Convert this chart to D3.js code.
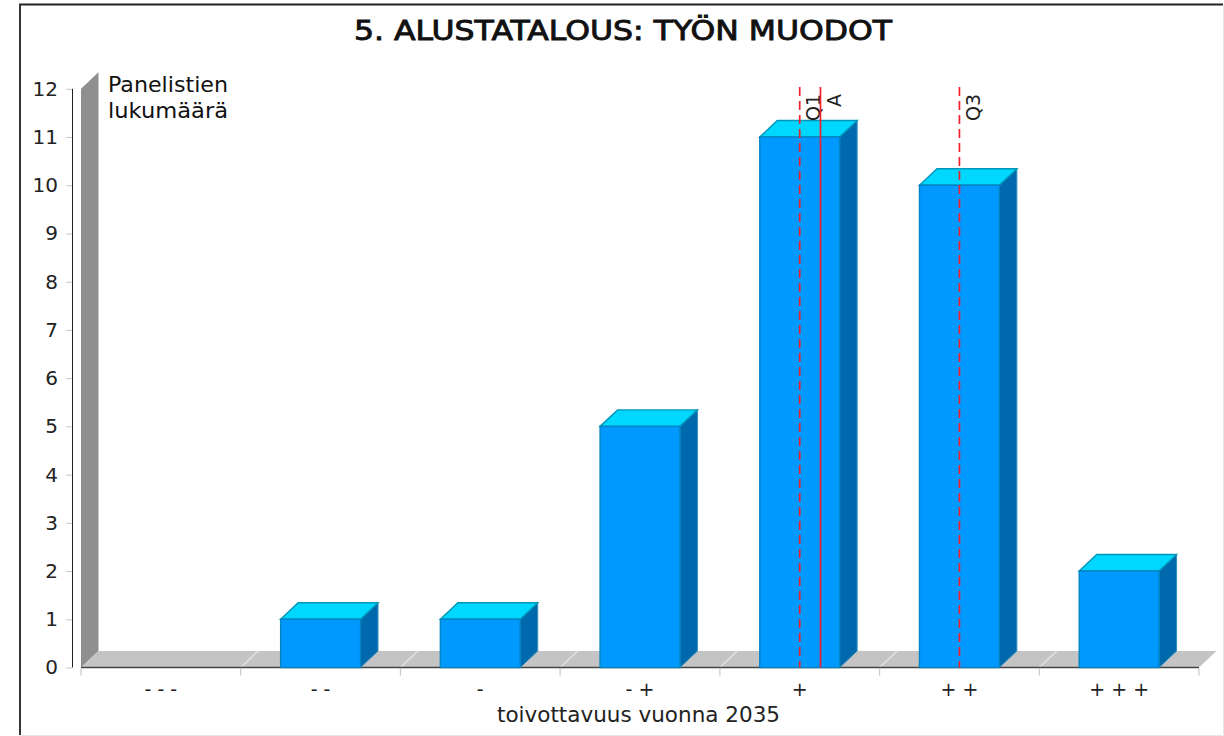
<!DOCTYPE html>
<html>
<head>
<meta charset="utf-8">
<script src="https://cdn.jsdelivr.net/npm/d3@7"></script>
<style>
html, body { margin: 0; padding: 0; background: #fff; overflow: hidden; }
text { font-family: "DejaVu Sans", sans-serif; fill: #222; }
</style>
</head>
<body>
<div id="canvas"></div>
<script>
var WIDTH = 1224
var HEIGHT = 736

var TITLE = '5. ALUSTATALOUS: TYÖN MUODOT'
var Y_TITLE = ['Panelistien', 'lukumäärä']
var X_TITLE = 'toivottavuus vuonna 2035'

var categories = ['- - -', '- -', '-', '- +', '+', '+ +', '+ + +']
var values = [0, 1, 1, 5, 11, 10, 2]
var yTicks = [0, 1, 2, 3, 4, 5, 6, 7, 8, 9, 10, 11, 12]

// marker positions, in category index units (0 = first category centre)
var markerNames = ['Q1', 'A', 'Q3']
var markerValues = [4, 4.13, 5]
var markerDashed = [true, false, true]

var DX = 17.5
var DY = 16.5
var LEFT = 81
var RIGHT = 1199
var TOP = 88.8
var BOTTOM = 667.5

var svg = d3.select('#canvas').append('svg')
  .attr('width', WIDTH)
  .attr('height', HEIGHT)
  .style('display', 'block')

// frame
svg.append('rect').attr('x', 0).attr('y', 0).attr('width', WIDTH).attr('height', HEIGHT).attr('fill', '#fff')
svg.append('path')
  .attr('d', 'M20,735V4.5H1223')
  .attr('fill', 'none')
  .attr('stroke', '#222')
  .attr('stroke-width', 1.8)
svg.append('path')
  .attr('d', 'M20,735.5H1223.5V5')
  .attr('fill', 'none')
  .attr('stroke', '#e6e6e6')
  .attr('stroke-width', 1)

var x = d3.scaleBand().domain(categories).range([LEFT, RIGHT]).paddingInner(0).paddingOuter(0)
var y = d3.scaleLinear().domain([0, 12]).range([BOTTOM, TOP])
var band = x.bandwidth()
var barWidth = band * 0.5

var markerX = d3.scaleLinear().domain([0, 6]).range([x(categories[0]) + band / 2, x(categories[6]) + band / 2])

// wall and floor
svg.append('path')
  .attr('d', 'M' + LEFT + ',' + BOTTOM + 'V' + TOP + 'L' + (LEFT + DX) + ',' + (TOP - DY) + 'V' + (BOTTOM - DY) + 'Z')
  .attr('fill', '#8f8f8f')
svg.append('path')
  .attr('d', 'M' + LEFT + ',' + BOTTOM + 'L' + (LEFT + DX) + ',' + (BOTTOM - DY) + 'H' + (RIGHT + DX) + 'L' + RIGHT + ',' + BOTTOM + 'Z')
  .attr('fill', '#c4c4c4')

// floor grid lines
svg.append('g').selectAll('line')
  .data(d3.range(1, categories.length))
  .enter().append('line')
  .attr('x1', function (d) { return LEFT + band * d })
  .attr('x2', function (d) { return LEFT + band * d + DX })
  .attr('y1', BOTTOM)
  .attr('y2', BOTTOM - DY)
  .attr('stroke', '#e4e4e4')
  .attr('stroke-width', 1.3)

// x axis
svg.append('line')
  .attr('x1', LEFT).attr('x2', RIGHT)
  .attr('y1', BOTTOM).attr('y2', BOTTOM)
  .attr('stroke', '#444').attr('stroke-width', 1.6)

svg.append('g').selectAll('line')
  .data(d3.range(categories.length + 1))
  .enter().append('line')
  .attr('x1', function (d) { return LEFT + band * d })
  .attr('x2', function (d) { return LEFT + band * d })
  .attr('y1', BOTTOM + 1)
  .attr('y2', BOTTOM + 8)
  .attr('stroke', '#c8c8c8')
  .attr('stroke-width', 1.2)

// y axis
var yAxis = d3.axisLeft(y).tickValues(yTicks).tickSize(6).tickPadding(8)
var yg = svg.append('g').attr('transform', 'translate(72,0)').call(yAxis)
yg.select('.domain').attr('stroke', '#222').attr('stroke-width', 1).attr('d', 'M0.5,' + TOP + 'V' + BOTTOM)
yg.selectAll('.tick line').attr('stroke', '#c8c8c8')
yg.selectAll('.tick text').style('font-family', '"DejaVu Sans", sans-serif').style('font-size', '20px').attr('fill', '#222').attr('x', -14)

// bars
var bars = svg.append('g').selectAll('g')
  .data(values.map(function (v, i) { return {v: v, c: categories[i]} }).filter(function (d) { return d.v > 0 }))
  .enter().append('g')

var bx = function (d) { return x(d.c) + (band - barWidth) / 2 }

bars.append('path')
  .attr('d', function (d) {
    var l = bx(d) + barWidth
    return 'M' + l + ',' + y(d.v) + 'l' + DX + ',' + (-DY) + 'V' + (BOTTOM - DY) + 'L' + l + ',' + BOTTOM + 'Z'
  })
  .attr('fill', '#0069ad')
  .attr('stroke', '#2f8fc0')
  .attr('stroke-width', 1)
bars.append('path')
  .attr('d', function (d) {
    var l = bx(d)
    return 'M' + l + ',' + y(d.v) + 'l' + DX + ',' + (-DY) + 'h' + barWidth + 'l' + (-DX) + ',' + DY + 'Z'
  })
  .attr('fill', '#00d7ff')
  .attr('stroke', '#0096b8')
  .attr('stroke-width', 1.4)
bars.append('rect')
  .attr('x', bx)
  .attr('y', function (d) { return y(d.v) })
  .attr('width', barWidth)
  .attr('height', function (d) { return BOTTOM - y(d.v) })
  .attr('fill', '#0099ff')
  .attr('stroke', '#0083c4')
  .attr('stroke-width', 1.4)

// markers
var markers = svg.append('g').selectAll('g')
  .data(markerNames.map(function (n, i) { return {n: n, v: markerValues[i], dashed: markerDashed[i]} }))
  .enter().append('g')

markers.append('line')
  .attr('x1', function (d) { return markerX(d.v) })
  .attr('x2', function (d) { return markerX(d.v) })
  .attr('y1', 87)
  .attr('y2', BOTTOM)
  .attr('stroke', '#f0202e')
  .attr('stroke-width', 1.7)
  .attr('stroke-dasharray', function (d) { return d.dashed ? '9,5' : null })

markers.append('text')
  .attr('transform', function (d) {
    return 'translate(' + (markerX(d.v) + 20.5) + ',94) rotate(-90)'
  })
  .attr('text-anchor', 'end')
  .attr('font-size', 19)
  .text(function (d) { return d.n })

// x labels
svg.append('g').selectAll('text')
  .data(categories)
  .enter().append('text')
  .attr('x', function (d) { return x(d) + band / 2 })
  .attr('y', BOTTOM + 28)
  .attr('text-anchor', 'middle')
  .attr('font-size', 19)
  .text(function (d) { return d })

svg.append('text')
  .attr('x', 497).attr('y', 722)
  .attr('font-size', 21)
  .attr('textLength', 283)
  .attr('lengthAdjust', 'spacingAndGlyphs')
  .text(X_TITLE)

svg.append('text')
  .attr('x', 354).attr('y', 40)
  .attr('font-size', 27)
  .attr('textLength', 538)
  .attr('lengthAdjust', 'spacingAndGlyphs')
  .style('fill', '#111')
  .style('stroke', '#111')
  .style('stroke-width', 0.9)
  .text(TITLE)

svg.append('g').selectAll('text')
  .data(Y_TITLE)
  .enter().append('text')
  .attr('x', 108)
  .attr('y', function (d, i) { return 91.5 + i * 26 })
  .attr('font-size', 22)
  .attr('textLength', 120)
  .attr('lengthAdjust', 'spacingAndGlyphs')
  .style('fill', '#111')
  .text(function (d) { return d })
</script>
</body>
</html>
